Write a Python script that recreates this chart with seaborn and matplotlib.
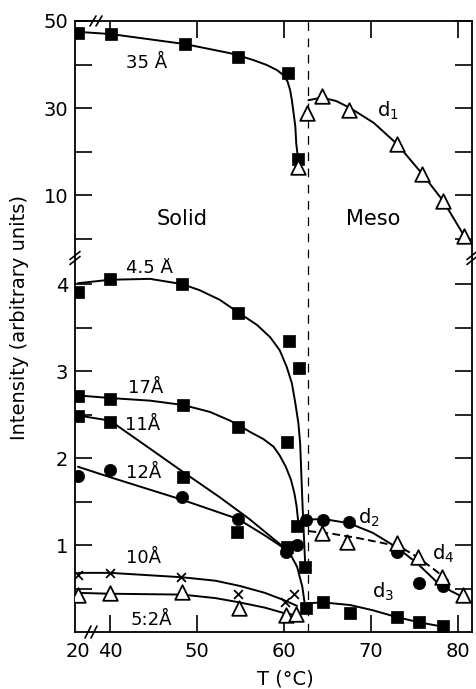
import numpy as np
import seaborn as sns
import matplotlib.pyplot as plt
from matplotlib.lines import Line2D

# ---------------- data read off the figure : T (degC), intensity (arb. units) ----------------
# upper panel (scale 0-50)
T_35 = [20, 40.1, 48.6, 54.7, 60.5, 61.6]
I_35 = [47.2, 47.0, 44.7, 41.8, 38.0, 18.3]
T_35_fit = [20, 40.1, 48.6, 53.8, 54.9, 56.5, 58.0, 59.2, 59.9, 60.4, 60.7, 60.9, 61.1, 61.3, 61.4, 61.6]
I_35_fit = [47.5, 47.0, 44.7, 42.6, 42.0, 41.0, 39.9, 38.7, 37.6, 36.1, 34.1, 31.8, 28.8, 25.7, 21.9, 18.4]

T_d1 = [61.6, 62.6, 64.4, 67.5, 73.0, 75.9, 78.3, 80.7]
I_d1 = [16.4, 28.8, 32.8, 29.5, 21.7, 14.8, 8.6, 0.6]
T_d1_fit = [62.8, 64.4, 66.0, 67.6, 70.3, 73.0, 75.9, 78.3, 80.7]
I_d1_fit = [31.8, 32.4, 31.6, 30.0, 26.6, 21.7, 14.8, 8.6, 0.6]

# lower panel (scale 0-4)
T_45 = [20, 40, 48.3, 54.7, 60.6, 61.7, 62.45]
I_45 = [3.91, 4.06, 4.00, 3.67, 3.34, 3.03, 0.75]
T_45_fit = [20, 40, 44.6, 48.3, 50.3, 52.6, 54.8, 56.9, 58.4, 59.5, 60.3, 60.9,
            61.3, 61.65, 61.85, 62.1, 62.3, 62.45]
I_45_fit = [4.01, 4.05, 4.06, 4.00, 3.93, 3.82, 3.67, 3.53, 3.39, 3.24, 3.05, 2.86,
            2.63, 2.40, 2.17, 1.52, 1.06, 0.75]

T_17 = [20, 40, 48.4, 54.7, 60.3, 61.5]
I_17 = [2.71, 2.68, 2.61, 2.36, 2.18, 1.22]
T_17_fit = [20, 40, 44.6, 48.4, 51.5, 53.8, 54.75, 56.1, 57.6, 58.8, 59.5, 60.2,
            60.8, 61.2, 61.45, 61.65]
I_17_fit = [2.72, 2.69, 2.66, 2.61, 2.53, 2.43, 2.38, 2.30, 2.22, 2.13, 2.03, 1.90,
            1.75, 1.59, 1.44, 1.25]

T_11 = [20, 40, 48.4, 54.6, 60.3]
I_11 = [2.48, 2.41, 1.78, 1.15, 0.98]
T_11_fit = [20, 40, 44.0, 48.4, 52.6, 56.0, 59.9, 60.8, 61.5, 62.1, 62.4]
I_11_fit = [2.49, 2.43, 2.15, 1.84, 1.55, 1.30, 0.98, 0.88, 0.75, 0.52, 0.31]

T_12 = [20, 40, 48.3, 54.7, 60.2, 61.5]
I_12 = [1.79, 1.86, 1.55, 1.30, 0.92, 1.00]
T_12_fit = [20, 40, 48.3, 54.7, 57.8, 59.9]
I_12_fit = [1.90, 1.78, 1.52, 1.30, 1.11, 0.97]

T_10 = [20, 40, 48.2, 54.7, 60.1, 61.1]
I_10 = [0.66, 0.68, 0.63, 0.44, 0.35, 0.44]
T_10_fit = [20, 40, 48.2, 52.1, 54.9, 57.8, 59.9, 61.5]
I_10_fit = [0.68, 0.68, 0.63, 0.59, 0.53, 0.45, 0.37, 0.30]

T_52 = [20, 40, 48.3, 54.8, 60.2, 61.4]
I_52 = [0.43, 0.45, 0.46, 0.28, 0.20, 0.21]
T_52_fit = [20, 40, 48.3, 52.1, 54.9, 57.8, 59.9, 61.0]
I_52_fit = [0.45, 0.44, 0.43, 0.39, 0.34, 0.28, 0.22, 0.20]

T_d2 = [62.5, 64.5, 67.5, 73.0, 75.5, 78.3]
I_d2 = [1.29, 1.29, 1.27, 0.92, 0.56, 0.53]
T_d2_fit = [62.5, 64.5, 67.5, 70.2, 73.0, 75.3, 77.6, 79.2, 80.6]
I_d2_fit = [1.29, 1.30, 1.25, 1.14, 0.97, 0.79, 0.57, 0.47, 0.40]

T_d4 = [64.4, 67.2, 73.0, 75.4, 78.2, 80.6]
I_d4 = [1.14, 1.04, 1.02, 0.86, 0.63, 0.43]
T_d4_fit = [62.8, 65.5, 68.5, 71.5, 73.5, 75.5, 77.5, 79.0]
I_d4_fit = [1.16, 1.13, 1.08, 1.02, 0.97, 0.85, 0.70, 0.58]

T_d3 = [62.5, 64.5, 67.6, 73.0, 75.5, 78.3]
I_d3 = [0.28, 0.34, 0.22, 0.17, 0.11, 0.07]
T_d3_fit = [62.6, 64.5, 67.6, 70.2, 73.0, 75.6, 78.3]
I_d3_fit = [0.33, 0.34, 0.31, 0.25, 0.17, 0.11, 0.06]

T_transition = 62.7

# ---------------- style ----------------
sns.set_style('ticks')
plt.rcParams['font.family'] = ['DejaVu Sans']
plt.rcParams['mathtext.default'] = 'regular'
plt.rcParams['text.color'] = 'black'
plt.rcParams['axes.labelcolor'] = 'black'
plt.rcParams['xtick.color'] = 'black'
plt.rcParams['ytick.color'] = 'black'
plt.rcParams['axes.linewidth'] = 1.3

W, H = 476, 689
fig = plt.figure(figsize=(W / 100, H / 100), dpi=100)

# broken T axis : 20..40 squeezed into a short stretch
K = 0.184
def fwd(t):
    t = np.asarray(t, dtype=float)
    return np.where(t < 40, 40 - (40 - t) * K, t)
def inv(p):
    p = np.asarray(p, dtype=float)
    return np.where(p < 40, 40 - (40 - p) / K, p)

ax_bot = fig.add_axes([75 / W, 1 - 632 / H, 397 / W, 374 / H])
ax_top = fig.add_axes([75 / W, 1 - 258 / H, 397 / W, 237 / H], sharex=ax_bot)
ax_bot.set_xscale('function', functions=(fwd, inv))
ax_bot.set_xlim(18.14, 81.6)
ax_top.set_ylim(-4.48, 50)
ax_bot.set_ylim(0, 4.30)

LW = 1.4
def curve(ax, T, I, dashed=False):
    sns.lineplot(x=T, y=I, ax=ax, color='k', lw=LW, sort=False, estimator=None,
                 linestyle=(0, (4, 2.2)) if dashed else '-', zorder=2)

def squares(ax, T, I):
    sns.scatterplot(x=T, y=I, ax=ax, marker='s', s=72, color='k', edgecolor='k',
                    linewidth=0.5, zorder=3)

def circles(ax, T, I):
    sns.scatterplot(x=T, y=I, ax=ax, marker='o', s=78, color='k', edgecolor='k',
                    linewidth=0.5, zorder=3)

def triangles(ax, T, I):
    sns.scatterplot(x=T, y=I, ax=ax, marker='^', s=110, color='white', edgecolor='k',
                    linewidth=1.3, zorder=4)

def crosses(ax, T, I):
    sns.scatterplot(x=T, y=I, ax=ax, marker='x', s=40, color='k', linewidth=1.3, zorder=3)

# upper panel
curve(ax_top, T_35_fit, I_35_fit)
squares(ax_top, T_35, I_35)
curve(ax_top, T_d1_fit, I_d1_fit)
triangles(ax_top, T_d1, I_d1)

# lower panel
curve(ax_bot, T_45_fit, I_45_fit)
squares(ax_bot, T_45, I_45)
curve(ax_bot, T_17_fit, I_17_fit)
squares(ax_bot, T_17, I_17)
curve(ax_bot, T_11_fit, I_11_fit)
squares(ax_bot, T_11, I_11)
curve(ax_bot, T_12_fit, I_12_fit)
circles(ax_bot, T_12, I_12)
curve(ax_bot, T_10_fit, I_10_fit)
crosses(ax_bot, T_10, I_10)
curve(ax_bot, T_52_fit, I_52_fit)
triangles(ax_bot, T_52, I_52)
curve(ax_bot, T_d2_fit, I_d2_fit)
circles(ax_bot, T_d2, I_d2)
curve(ax_bot, T_d4_fit, I_d4_fit, dashed=True)
triangles(ax_bot, T_d4, I_d4)
curve(ax_bot, T_d3_fit, I_d3_fit)
squares(ax_bot, T_d3, I_d3)

for ax in (ax_top, ax_bot):
    ax.axvline(T_transition, color='k', lw=0.9, linestyle=(0, (7, 6)), zorder=1)
    ax.set_xlabel('')
    ax.set_ylabel('')

# ticks
ax_bot.set_xticks([40, 50, 60, 70, 80])
ax_bot.set_xticklabels(['40', '50', '60', '70', '80'])
ax_bot.set_xticks([20], minor=True)
ax_bot.set_xticklabels(['20'], minor=True)

ax_top.set_yticks([10, 30, 50])
ax_top.set_yticklabels(['10', '30', '50'])
ax_top.set_yticks([0, 20, 40], minor=True)
ax_bot.set_yticks([1, 2, 3, 4])
ax_bot.set_yticklabels(['1', '2', '3', '4'])
ax_bot.set_yticks([0.5, 1.5, 2.5, 3.5], minor=True)

for ax in (ax_top, ax_bot):
    ax.tick_params(axis='both', which='both', direction='in', length=12, width=1.2,
                   labelsize=14, right=True, left=True, colors='k')
    ax.tick_params(axis='y', which='both', pad=5)
    ax.tick_params(axis='y', which='minor', labelleft=False)
ax_bot.tick_params(axis='x', which='both', top=False, bottom=True, pad=7)
ax_bot.tick_params(axis='x', which='minor', length=0)
ax_top.tick_params(axis='x', which='both', top=True, bottom=False,
                   labelbottom=False, labeltop=False)
ax_top.tick_params(axis='x', which='minor', length=0)

ax_top.spines['bottom'].set_visible(False)
ax_bot.spines['top'].set_visible(False)
for ax in (ax_top, ax_bot):
    for sp in ax.spines.values():
        sp.set_color('k')
        sp.set_linewidth(1.3)

# break marks
def slash(x0, y0, x1, y1):
    fig.add_artist(Line2D([x0 / W, x1 / W], [1 - y0 / H, 1 - y1 / H],
                          transform=fig.transFigure, color='k', lw=1.2))

for xs in (75, 472):
    for dy in (-2.5, 2.5):
        slash(xs - 5, 258 + dy + 4, xs + 5, 258 + dy - 4)
for xb in (88, 94):
    slash(xb - 3, 638, xb + 3, 626)
for xb in (93, 99):
    slash(xb - 3, 26, xb + 3, 16)

# labels
tk = dict(fontsize=13, ha='center', va='baseline', color='k')
ax_top.text(44.25, 39.2, '35 Å', **tk)
ax_top.text(48.3, 3.1, 'Solid', fontsize=15, ha='center', va='baseline', color='k')
ax_top.text(70.3, 3.1, 'Meso', fontsize=15, ha='center', va='baseline', color='k')
ax_top.text(70.7, 27.9, 'd$_1$', fontsize=14, ha='left', va='baseline', color='k')
ax_bot.text(44.5, 4.13, '4.5 Å', **tk)
ax_bot.text(44.1, 2.75, '17Å', **tk)
ax_bot.text(43.7, 2.32, '11Å', **tk)
ax_bot.text(43.9, 1.77, '12Å', **tk)
ax_bot.text(43.9, 0.79, '10Å', **tk)
ax_bot.text(44.8, 0.08, '5:2Å', **tk)
ax_bot.text(68.5, 1.25, 'd$_2$', fontsize=14, ha='left', va='baseline', color='k')
ax_bot.text(77.0, 0.83, 'd$_4$', fontsize=14, ha='left', va='baseline', color='k')
ax_bot.text(70.1, 0.39, 'd$_3$', fontsize=14, ha='left', va='baseline', color='k')

fig.text(20 / W, 1 - 318 / H, 'Intensity (arbitrary units)', rotation=90,
         ha='center', va='center', fontsize=14, color='k')
fig.text(285 / W, 1 - 679 / H, 'T (°C)', ha='center', va='center', fontsize=14, color='k')

fig.savefig('out.png', dpi=100)
